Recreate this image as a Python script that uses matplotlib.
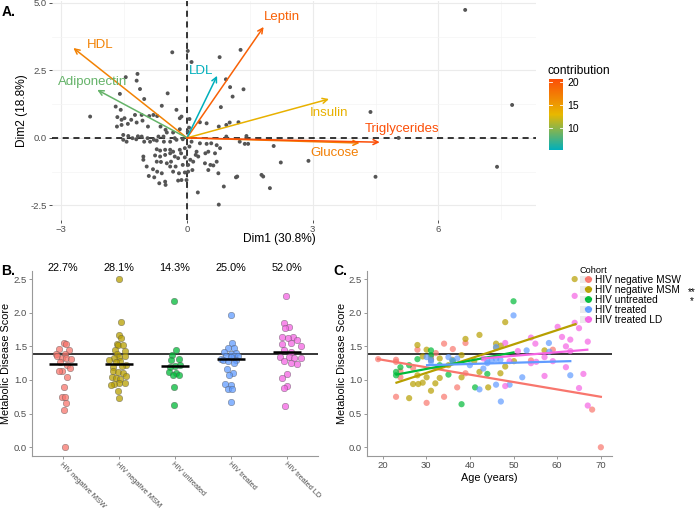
import numpy as np
import matplotlib
matplotlib.use('Agg')
import matplotlib.pyplot as plt
from matplotlib.colors import LinearSegmentedColormap, Normalize
from matplotlib.lines import Line2D
from matplotlib.patches import Patch
from matplotlib.legend_handler import HandlerTuple
from matplotlib.colorbar import ColorbarBase

plt.rcParams['font.family'] = ['Liberation Sans', 'DejaVu Sans']

# ---------------- Panel A data (PCA biplot) ----------------
pca_x = [-0.35, 0.02, 0.11, 0.78, 1.28, -1.18, -1.20, -1.46, -1.60, -1.12, -0.46, -1.02, 0.93, 1.03, 1.35,
         1.09, 0.81, -0.60, -0.25, -1.70, -1.58, -2.31, -1.66, -1.56, -1.49, -1.33, -1.24, -1.08, -0.90, -0.80,
         -0.71, -0.17, -0.13, 0.06, 0.31, 0.47, 0.76, 0.94, 1.02, 1.23, 1.42, 0.94, -1.67, -1.56, -1.41,
         -1.20, -1.06, -0.93, -0.63, -0.51, -1.52, -1.40, -1.30, -1.17, -1.02, -0.94, -0.79, -0.68, -0.56, -0.48,
         -0.33, -0.17, -0.29, -1.52, -1.44, -1.21, -1.08, -0.88, -0.72, -0.55, -0.40, -0.25, -0.10, 0.02, 0.05,
         0.11, 0.31, 0.47, 0.58, 0.71, 1.26, 1.38, 1.46, 2.07, 2.90, 2.24, 0.06, -0.05, -0.17, -0.33,
         -0.40, -0.52, -0.64, -0.72, 0.23, 0.44, 0.51, 0.67, 0.79, -1.04, -1.04, -0.96, -0.76, -0.72, -0.64,
         -0.62, -0.52, -0.40, -0.38, -0.29, -0.21, -0.14, -0.05, 0.08, 0.15, 0.21, 0.27, 0.43, 0.56, 0.63,
         0.71, 0.51, 0.75, 1.17, 1.20, 1.78, 1.82, 1.98, 0.88, 0.76, 0.26, -0.33, -0.19, -0.05, 0.03,
         0.13, -0.13, -0.01, -0.21, -0.52, -0.66, -0.51, -0.78, -0.91, -0.40, -0.27, -0.10, 0.03, -0.48, -0.81,
         -0.71, -0.60, 6.64, 7.76, 7.40, 4.38, 5.05, 4.50]
pca_y = [3.17, 3.22, 2.81, 2.99, 3.26, 2.37, 2.12, 2.25, 1.63, 1.81, 1.65, 1.44, 2.17, 1.88, 1.80,
         1.53, 1.14, 1.19, 1.04, 1.16, 1.04, 0.79, 0.77, 0.67, 0.73, 0.67, 0.85, 0.85, 0.81, 0.85,
         0.81, 0.73, 0.79, 0.70, 0.58, 0.54, 0.42, 0.48, 0.57, 0.58, 0.07, 0.05, 0.42, 0.48, 0.52,
         0.57, 0.64, 0.42, 0.42, 0.30, 0.11, 0.07, -0.01, 0.06, -0.14, -0.01, -0.07, 0.05, 0.05, 0.20,
         0.20, 0.32, -0.01, -0.07, -0.14, -0.05, 0.05, -0.14, -0.10, -0.14, -0.14, -0.07, -0.05, 0.23, 0.38,
         -0.14, -0.20, -0.22, -0.20, -0.27, -0.14, -0.22, -0.22, -0.30, -0.85, -0.91, -0.32, -0.38, -0.44, -0.51,
         -0.44, -0.44, -0.47, -0.42, -0.51, -0.57, -0.51, -0.57, -0.38, -0.69, -0.81, -1.06, -0.65, -0.88, -0.69,
         -0.89, -0.63, -0.57, -0.88, -0.69, -0.75, -0.57, -0.72, -0.81, -0.88, -0.63, -0.69, -0.94, -1.00, -1.02,
         -0.88, -1.19, -1.31, -1.46, -1.43, -1.37, -1.43, -1.86, -1.80, -2.47, -2.02, -1.25, -1.31, -1.28, -1.25,
         -1.19, -1.56, -1.56, -1.58, -1.62, -1.68, -1.74, -1.46, -1.41, -1.06, -1.06, -1.00, -1.00, -0.94, -1.16,
         -1.25, -1.31, 4.74, 1.22, -1.07, 0.96, 0.00, -1.44]

var_names = ['Leptin', 'HDL', 'LDL', 'Adiponectin', 'Insulin', 'Glucose', 'Triglycerides']
var_x = [1.83, -2.71, 0.72, -2.14, 3.39, 4.12, 4.60]
var_y = [4.11, 3.33, 2.30, 1.78, 1.44, -0.19, -0.16]
var_contrib = [19.2, 16.8, 5.2, 8.6, 13.4, 17.0, 20.6]
var_label_x = [2.27, -2.08, 0.33, -2.24, 3.39, 3.53, 5.13]
var_label_y = [4.48, 3.44, 2.48, 2.07, 0.93, -0.55, 0.33]
contrib_ticks = [10, 15, 20]

# ---------------- Panel B data ----------------
cohorts = ['HIV negative MSW', 'HIV negative MSM', 'HIV untreated', 'HIV treated', 'HIV treated LD']
cohort_colors = ['#F8766D', '#B79F00', '#00BA38', '#619CFF', '#F564E3']
pct_labels = ['22.7%', '28.1%', '14.3%', '25.0%', '52.0%']
threshold = 1.39

b_scores = [
    [1.55, 1.53, 1.46, 1.44, 1.39, 1.38, 1.35, 1.33, 1.33, 1.31, 1.26, 1.22, 1.18, 1.13, 1.13, 1.04,
     0.89, 0.75, 0.75, 0.66, 0.56, 0.00],
    [2.50, 1.86, 1.67, 1.62, 1.54, 1.52, 1.52, 1.44, 1.43, 1.38, 1.35, 1.34, 1.33, 1.29, 1.28, 1.26,
     1.22, 1.21, 1.19, 1.13, 1.12, 1.11, 1.06, 1.04, 1.03, 1.02, 0.95, 0.95, 0.94, 0.92, 0.83, 0.73],
    [2.18, 1.44, 1.37, 1.31, 1.30, 1.22, 1.21, 1.20, 1.12, 1.10, 1.08, 1.07, 0.89, 0.63],
    [1.97, 1.55, 1.48, 1.47, 1.42, 1.40, 1.39, 1.35, 1.35, 1.35, 1.34, 1.31, 1.30, 1.29, 1.28, 1.25,
     1.17, 1.11, 1.07, 0.94, 0.93, 0.86, 0.86, 0.68],
    [2.25, 1.85, 1.79, 1.77, 1.64, 1.64, 1.62, 1.60, 1.55, 1.54, 1.50, 1.44, 1.41, 1.34, 1.34, 1.33,
     1.32, 1.28, 1.25, 1.24, 1.09, 1.03, 0.91, 0.88, 0.62],
]
b_jitter = [
    [0.02, 0.06, -0.06, 0.11, -0.12, 0.04, -0.11, -0.02, 0.06, 0.15, -0.05, 0.08, 0.12, -0.01, -0.06, 0.08,
     0.02, -0.02, 0.04, 0.06, 0.02, 0.04],
    [0.00, 0.04, 0.01, 0.04, -0.04, -0.02, 0.08, -0.07, 0.11, -0.03, 0.10, 0.01, -0.08, -0.17, 0.02, -0.06,
     0.13, 0.05, -0.10, -0.11, -0.01, 0.08, 0.12, -0.12, -0.05, 0.02, 0.01, 0.10, -0.08, -0.15, -0.02, 0.01],
    [-0.01, 0.02, -0.05, 0.07, -0.08, 0.09, 0.00, -0.09, -0.11, 0.02, 0.07, -0.03, -0.02, -0.01],
    [-0.01, 0.01, -0.06, 0.06, -0.12, 0.09, -0.01, -0.09, 0.06, 0.13, 0.00, -0.18, -0.15, 0.09, -0.05, 0.06,
     -0.07, 0.03, -0.04, -0.11, 0.00, -0.06, 0.01, 0.00],
    [-0.02, -0.06, 0.04, -0.03, -0.09, 0.11, 0.01, 0.18, 0.06, -0.10, 0.24, -0.06, 0.07, -0.13, 0.03, 0.12,
     0.24, -0.05, 0.06, 0.18, -0.01, -0.09, 0.00, -0.05, -0.03],
]

# ---------------- Panel C data ----------------
c_age = [
    [19.0, 23.1, 23.1, 23.1, 24.1, 24.1, 27.0, 28.0, 30.1, 31.1, 31.1, 32.2, 34.1, 34.1, 36.1, 37.1,
     39.0, 39.0, 54.0, 59.0, 68.0, 70.0],
    [26.1, 27.0, 28.0, 28.0, 28.2, 29.2, 29.2, 30.1, 30.1, 31.1, 31.1, 32.1, 33.1, 33.1, 35.1, 36.0,
     38.1, 38.1, 39.0, 41.0, 42.2, 42.2, 44.2, 46.0, 46.0, 47.1, 47.0, 48.1, 48.1, 50.1, 57.1, 64.0],
    [23.1, 23.1, 24.1, 26.1, 28.0, 31.1, 31.1, 33.1, 35.1, 36.1, 38.1, 41.2, 44.0, 50.0],
    [30.1, 31.1, 31.1, 35.1, 36.0, 37.1, 40.0, 42.2, 43.1, 44.0, 44.0, 45.0, 46.0, 46.0, 46.0, 47.0,
     47.1, 49.1, 50.0, 52.0, 53.0, 58.1, 58.2, 63.0],
    [43.1, 48.1, 48.1, 49.1, 51.0, 54.0, 54.0, 55.0, 55.2, 57.1, 57.1, 59.0, 60.1, 61.1, 62.0, 62.0,
     63.0, 63.0, 64.0, 64.0, 65.0, 65.0, 66.0, 67.0, 67.0],
]
c_score = [
    [1.31, 1.30, 1.27, 0.75, 1.04, 1.13, 1.18, 1.45, 0.66, 1.34, 1.30, 1.40, 1.54, 0.75, 1.46, 0.89,
     1.10, 1.55, 1.29, 1.45, 0.56, 0.00],
    [0.73, 0.94, 1.52, 1.07, 0.94, 1.35, 0.96, 1.45, 1.04, 0.84, 1.30, 0.95, 1.32, 1.03, 1.22, 1.30,
     1.37, 1.04, 1.61, 1.28, 1.67, 1.12, 0.89, 1.54, 1.48, 1.51, 1.10, 1.86, 1.20, 1.28, 1.44, 2.50],
    [1.12, 1.07, 1.19, 1.22, 1.31, 1.44, 1.37, 1.22, 1.08, 1.28, 0.64, 0.89, 1.09, 2.17],
    [1.34, 1.27, 1.30, 1.34, 1.29, 1.32, 1.22, 0.86, 1.17, 1.25, 1.28, 1.29, 1.49, 0.93, 1.31, 1.30,
     0.68, 0.93, 1.96, 1.04, 1.44, 1.55, 1.42, 1.07],
    [1.32, 1.55, 0.91, 1.28, 1.43, 1.63, 1.25, 1.54, 1.27, 1.34, 1.06, 1.28, 1.79, 1.64, 1.50, 1.19,
     1.60, 1.43, 2.25, 1.85, 1.77, 0.88, 1.09, 1.57, 0.62],
]
# fitted regression lines: start/end age and score
fit_age0 = [19.0, 23.2, 23.2, 30.2, 42.9]
fit_age1 = [70.0, 64.2, 50.0, 63.0, 66.9]
fit_val0 = [1.31, 0.96, 1.08, 1.22, 1.32]
fit_val1 = [0.75, 1.83, 1.41, 1.28, 1.45]
signif = ['', '**', '*', '', '']

W, H = 696, 514
fig = plt.figure(figsize=(W / 100, H / 100), dpi=100)


def fx(px):
    return px / W


def fy(py):
    return 1 - py / H


grey_txt = '#4D4D4D'

# ================= Panel A =================
axA = fig.add_axes([fx(52), fy(220), fx(536) - fx(52), fy(1) - fy(220)])
axA.set_xlim(-3.22, 8.33)
axA.set_ylim(-3.04, 5.07)
axA.set_xticks([-3, 0, 3, 6])
axA.set_yticks([-2.5, 0.0, 2.5, 5.0])
axA.set_yticklabels(['-2.5', '0.0', '2.5', '5.0'])
axA.set_xticks([-1.5, 1.5, 4.5, 7.5], minor=True)
axA.set_yticks([-1.25, 1.25, 3.75], minor=True)
axA.grid(True, which='major', color='#EBEBEB', lw=0.8)
axA.grid(True, which='minor', color='#F4F4F4', lw=0.5)
axA.set_axisbelow(True)
for s in axA.spines.values():
    s.set_visible(False)
axA.tick_params(which='major', length=2, width=0.6, color='#333333', labelsize=6.8,
                labelcolor=grey_txt, pad=1.5)
axA.tick_params(which='minor', length=0)
axA.axhline(0, color='black', lw=1.1, ls=(0, (4, 3)), zorder=1)
axA.axvline(0, color='black', lw=1.1, ls=(0, (4, 3)), zorder=1)
axA.scatter(pca_x, pca_y, s=8, color='#555555', edgecolors='none', zorder=2)

cmap = LinearSegmentedColormap.from_list('contrib', ['#00AFBB', '#E7B800', '#FC4E07'])
norm = Normalize(vmin=min(var_contrib), vmax=max(var_contrib))
for name, vx, vy, c, lx, ly in zip(var_names, var_x, var_y, var_contrib, var_label_x, var_label_y):
    col = cmap(norm(c))
    axA.annotate('', xy=(vx, vy), xytext=(0, 0),
                 arrowprops=dict(arrowstyle='->', color=col, lw=1.1, shrinkA=0, shrinkB=0,
                                 mutation_scale=9), zorder=3)
    axA.text(lx, ly, name, color=col, fontsize=9.5, ha='center', va='center', zorder=4)
axA.set_xlabel('Dim1 (30.8%)', fontsize=8.6, color='black', labelpad=2)
axA.xaxis.set_label_coords(0.469, -0.06)
axA.set_ylabel('Dim2 (18.8%)', fontsize=8.6, color='black', labelpad=2)

# colorbar
caxA = fig.add_axes([fx(549), fy(150), fx(563) - fx(549), fy(79) - fy(150)])
cb = ColorbarBase(caxA, cmap=cmap, norm=norm, orientation='vertical')
cb.outline.set_visible(False)
cb.set_ticks(contrib_ticks)
caxA.tick_params(length=0, labelsize=7.5, pad=3)
for t in contrib_ticks:
    caxA.axhline(t, xmin=0, xmax=0.2, color='white', lw=0.6)
    caxA.axhline(t, xmin=0.8, xmax=1, color='white', lw=0.6)
fig.text(fx(548), fy(71), 'contribution', fontsize=8.7, ha='left', va='center')

# ================= Panel B =================
axB = fig.add_axes([fx(32), fy(456), fx(318) - fx(32), fy(271) - fy(456)])
axB.set_xlim(0.45, 5.55)
axB.set_ylim(-0.13, 2.62)
for i, (scores, jit, col) in enumerate(zip(b_scores, b_jitter, cohort_colors)):
    xs = np.array(jit) + (i + 1)
    axB.scatter(xs, scores, s=22, color=col, alpha=0.75, edgecolors='#555555', linewidths=0.35, zorder=2)
    med = np.median(scores)
    axB.plot([i + 1 - 0.25, i + 1 + 0.25], [med, med], color='black', lw=1.8, zorder=3,
             solid_capstyle='butt')
    axB.text(i + 1, 2.67, pct_labels[i], fontsize=7.8, ha='center', va='center', clip_on=False)
axB.axhline(threshold, color='black', lw=1.1, zorder=1)
axB.set_xticks(range(1, 6))
axB.set_xticklabels(cohorts, rotation=-45, ha='left', va='top', rotation_mode='anchor',
                    fontsize=5.3, color=grey_txt)
axB.set_yticks([0, 0.5, 1.0, 1.5, 2.0, 2.5])
axB.set_yticklabels(['0.0', '0.5', '1.0', '1.5', '2.0', '2.5'])
axB.tick_params(axis='y', labelsize=6.8, labelcolor=grey_txt, length=2, width=0.6, color='#888888', pad=1.5)
axB.tick_params(axis='x', length=2, width=0.6, color='#888888', pad=1.5)
for s in ['top', 'right']:
    axB.spines[s].set_visible(False)
for s in ['left', 'bottom']:
    axB.spines[s].set_color('#999999')
    axB.spines[s].set_linewidth(0.8)
axB.set_ylabel('Metabolic Disease Score', fontsize=7.8, labelpad=2)

# ================= Panel C =================
axC = fig.add_axes([fx(367), fy(456), fx(612) - fx(367), fy(271) - fy(456)])
axC.set_xlim(16.45, 72.55)
axC.set_ylim(-0.13, 2.62)
for i, col in enumerate(cohort_colors):
    axC.scatter(c_age[i], c_score[i], s=20, color=col, alpha=0.7, edgecolors='none', zorder=2)
for i, col in enumerate(cohort_colors):
    axC.plot([fit_age0[i], fit_age1[i]], [fit_val0[i], fit_val1[i]], color=col, lw=1.6, zorder=3)
axC.axhline(threshold, color='black', lw=1.1, zorder=1)
axC.set_xticks([20, 30, 40, 50, 60, 70])
axC.set_yticks([0, 0.5, 1.0, 1.5, 2.0, 2.5])
axC.set_yticklabels(['0.0', '0.5', '1.0', '1.5', '2.0', '2.5'])
axC.tick_params(labelsize=6.8, labelcolor=grey_txt, length=2, width=0.6, color='#888888', pad=1.5)
for s in ['top', 'right']:
    axC.spines[s].set_visible(False)
for s in ['left', 'bottom']:
    axC.spines[s].set_color('#999999')
    axC.spines[s].set_linewidth(0.8)
axC.set_ylabel('Metabolic Disease Score', fontsize=7.8, labelpad=1)
axC.set_xlabel('Age (years)', fontsize=7.8, labelpad=2)

handles = []
for col in cohort_colors:
    handles.append((Patch(facecolor='#EBEBEB', edgecolor='none'),
                    Line2D([], [], color=col, lw=1.6, marker='o', markersize=4, alpha=0.9)))
leg = fig.legend(handles, cohorts, loc='upper left', bbox_to_anchor=(fx(580), fy(266)),
                 handler_map={tuple: HandlerTuple(ndivide=None, pad=0)},
                 frameon=False, fontsize=7.3, title='Cohort', title_fontsize=6.6,
                 handlelength=1.1, handleheight=0.7, handletextpad=0.35, labelspacing=0.0,
                 borderpad=0, borderaxespad=0, alignment='left')
fig.text(fx(692), fy(292), '**', fontsize=7.3, ha='center', va='center')
fig.text(fx(692), fy(301), '*', fontsize=7.3, ha='center', va='center')

# panel letters
fig.text(fx(2), fy(12), 'A.', fontsize=10, fontweight='bold', va='center', ha='left')
fig.text(fx(1), fy(271), 'B.', fontsize=10, fontweight='bold', va='center', ha='left')
fig.text(fx(333), fy(271), 'C.', fontsize=10, fontweight='bold', va='center', ha='left')

fig.savefig('out.png', dpi=100)
